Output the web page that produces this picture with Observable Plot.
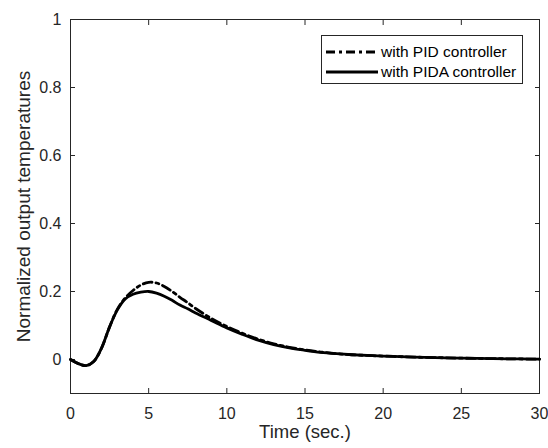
<!DOCTYPE html>
<html><head><meta charset="utf-8">
<script src="https://cdn.jsdelivr.net/npm/d3@7"></script>
<script src="https://cdn.jsdelivr.net/npm/@observablehq/plot@0.6"></script>
<style>
body{margin:0;background:#fff;}
#wrap{position:relative;width:548px;height:448px;font-family:"Liberation Sans",Arial,sans-serif;}
#legend{position:absolute;left:321px;top:35px;width:202px;height:49px;border:1px solid #262626;background:#fff;font-size:15.5px;color:#000;box-sizing:border-box;}
#legend .row{position:absolute;left:4px;height:20px;display:flex;align-items:center;}
#legend svg{display:block;margin-right:3px;}
</style></head><body><div id="wrap"></div>
<script>
const seriesNames = ["with PID controller", "with PIDA controller"];
const time = [0, 0.5, 1, 1.5, 2, 2.5, 3, 3.5, 4, 4.5, 5, 5.5, 6, 6.5, 7, 7.5, 8, 9, 10, 11, 12, 13, 14, 15, 16, 17, 18, 20, 22, 25, 28, 30];
const pidValues = [0, -0.012, -0.018, -0.005, 0.035, 0.096, 0.148, 0.181, 0.203, 0.219, 0.227, 0.225, 0.215, 0.200, 0.183, 0.167, 0.150, 0.121, 0.097, 0.077, 0.060, 0.046, 0.036, 0.028, 0.022, 0.017, 0.014, 0.010, 0.007, 0.004, 0.002, 0.001];
const pidaValues = [0, -0.012, -0.018, -0.005, 0.035, 0.096, 0.146, 0.178, 0.192, 0.198, 0.200, 0.195, 0.186, 0.174, 0.160, 0.149, 0.137, 0.115, 0.093, 0.074, 0.057, 0.044, 0.034, 0.027, 0.021, 0.017, 0.014, 0.010, 0.007, 0.004, 0.002, 0.001];
const xTicks = [0, 5, 10, 15, 20, 25, 30];
const yTicks = [0, 0.2, 0.4, 0.6, 0.8, 1];
const xTitle = "Time (sec.)";
const yTitle = "Normalized output temperatures";

const rows = [];
time.forEach((t, i) => {
  rows.push({t, v: pidValues[i], s: seriesNames[0]});
  rows.push({t, v: pidaValues[i], s: seriesNames[1]});
});
const axisColor = "#262626";
const chart = Plot.plot({
  width: 548, height: 448,
  marginLeft: 70, marginRight: 9, marginTop: 19, marginBottom: 55,
  style: {fontFamily: '"Liberation Sans", Arial, sans-serif', background: "#fff", color: axisColor},
  x: {domain: [0, 30]},
  y: {domain: [-0.1, 1]},
  marks: [
    Plot.axisX(xTicks, {anchor: "bottom", tickSize: -5, tickPadding: 19, fontSize: 16, tickFormat: d => String(d), label: null, stroke: axisColor}),
    Plot.axisX(xTicks, {anchor: "top", tickSize: -5, tickFormat: () => "", label: null, stroke: axisColor}),
    Plot.axisY(yTicks, {anchor: "left", tickSize: -5, tickPadding: 14, fontSize: 16, tickFormat: d => String(d), label: null, stroke: axisColor}),
    Plot.axisY(yTicks, {anchor: "right", tickSize: -5, tickFormat: () => "", label: null, stroke: axisColor}),
    Plot.frame({stroke: axisColor}),
    Plot.line(rows.filter(d => d.s === seriesNames[1]), {x: "t", y: "v", stroke: "#000", strokeWidth: 2.8, curve: "catmull-rom"}),
    Plot.line(rows.filter(d => d.s === seriesNames[0]), {x: "t", y: "v", stroke: "#000", strokeWidth: 2.8, strokeDasharray: "9,4,3,4", curve: "catmull-rom"}),
    Plot.text([xTitle], {frameAnchor: "bottom", dy: 39, lineAnchor: "middle", textAnchor: "middle", fontSize: 18.5, fill: axisColor}),
    Plot.text([yTitle], {frameAnchor: "left", dx: -47, rotate: -90, lineAnchor: "middle", textAnchor: "middle", fontSize: 19, fill: axisColor})
  ]
});
const wrap = document.getElementById("wrap");
wrap.appendChild(chart);
const legend = document.createElement("div");
legend.id = "legend";
seriesNames.forEach((name, i) => {
  const row = document.createElement("div");
  row.className = "row";
  row.style.top = (i * 20 + 6) + "px";
  row.innerHTML = `<svg width="52" height="6"><line x1="0" y1="3" x2="52" y2="3" stroke="#000" stroke-width="2.8" ${i === 0 ? 'stroke-dasharray="9,4,3,4"' : ''}/></svg><span>${name}</span>`;
  legend.appendChild(row);
});
wrap.appendChild(legend);
</script></body></html>
